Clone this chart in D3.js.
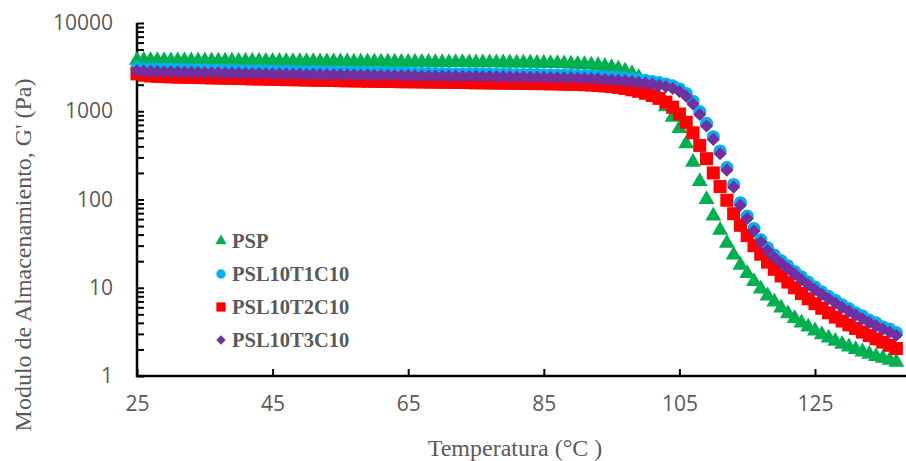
<!DOCTYPE html>
<html>
<head>
<meta charset="utf-8">
<script src="https://cdn.jsdelivr.net/npm/d3@7"></script>
<style>
  body { margin: 0; background: #fff; }
  svg { display: block; }
</style>
</head>
<body>
<div id="chart"></div>
<script>
// Temperature (°C), one reading per degree
const temps = d3.range(25, 138);

// Storage modulus G' (Pa)
const psp = [3800,3780,3770,3760,3760,3750,3750,3740,3740,3730,3730,3720,3720,3710,3710,3700,3700,3700,3690,3690,
  3680,3680,3670,3670,3660,3660,3660,3650,3650,3640,3640,3640,3630,3630,3620,3620,3620,3610,3610,3600,
  3600,3600,3590,3590,3580,3580,3580,3570,3570,3560,3560,3560,3550,3550,3540,3540,3530,3530,3520,3510,
  3500,3490,3480,3460,3440,3420,3390,3350,3300,3230,3140,3020,2870,2670,2420,2120,1780,1430,1130,860,
  640,430,265,160,100,65,45,32,23.5,18,14.5,11.8,9.7,8.1,6.9,5.9,5.1,4.5,4.0,3.6,
  3.25,2.95,2.7,2.48,2.3,2.14,2.0,1.88,1.77,1.67,1.59,1.51,1.44];

const psl10t1c10 = [3080,3050,3030,3010,3000,2990,2980,2960,2950,2940,2930,2920,2910,2900,2900,2890,2880,2870,2870,2860,
  2850,2840,2840,2820,2810,2800,2800,2790,2780,2780,2770,2760,2760,2750,2750,2740,2730,2730,2720,2720,
  2710,2700,2700,2690,2690,2680,2680,2660,2660,2650,2650,2640,2640,2630,2630,2620,2610,2610,2600,2600,
  2590,2580,2570,2570,2560,2550,2530,2510,2490,2460,2430,2400,2360,2320,2280,2230,2170,2110,2030,1940,
  1800,1590,1300,990,730,515,355,230,148,92,65,47,35,28.4,23.5,20.3,17.7,15.3,13.3,11.6,
  10.2,9.0,8.0,7.2,6.4,5.8,5.2,4.8,4.3,4.0,3.6,3.4,3.1];

const psl10t2c10 = [2650,2560,2510,2490,2470,2450,2440,2430,2420,2410,2400,2390,2380,2370,2360,2350,2340,2330,2320,2310,
  2300,2290,2280,2280,2270,2260,2250,2240,2240,2230,2220,2210,2210,2200,2190,2190,2180,2180,2170,2160,
  2160,2150,2150,2140,2140,2130,2130,2120,2120,2110,2100,2100,2090,2090,2080,2080,2070,2070,2060,2060,
  2050,2050,2040,2030,2020,2010,2000,1980,1960,1930,1900,1860,1810,1750,1680,1600,1510,1400,1270,1110,
  930,750,570,410,290,200,140,98,69,51,39,30,24,19.5,16.2,13.6,11.6,10.0,8.6,7.5,
  6.6,5.85,5.2,4.65,4.2,3.8,3.45,3.15,2.88,2.64,2.42,2.23,2.05];

const psl10t3c10 = [2880,2850,2830,2810,2800,2790,2780,2770,2760,2750,2740,2730,2720,2710,2710,2700,2690,2680,2680,2670,
  2660,2650,2650,2640,2630,2620,2620,2610,2600,2600,2590,2580,2580,2570,2570,2560,2550,2550,2540,2540,
  2530,2520,2520,2510,2510,2500,2500,2490,2490,2480,2480,2470,2470,2460,2460,2450,2440,2440,2430,2430,
  2420,2410,2400,2400,2390,2380,2360,2350,2330,2300,2270,2240,2210,2170,2130,2080,2030,1970,1900,1810,
  1680,1480,1210,920,680,480,330,215,138,86,61,44,33,26.5,22,19,16.5,14.3,12.4,10.8,
  9.5,8.4,7.5,6.7,6.0,5.4,4.9,4.45,4.05,3.7,3.4,3.15,2.9];

const seriesNames = ["PSP", "PSL10T1C10", "PSL10T2C10", "PSL10T3C10"];
const seriesValues = [psp, psl10t1c10, psl10t2c10, psl10t3c10];
const seriesColors = ["#00B050", "#00B0F0", "#FF0000", "#7030A0"];
const seriesSymbols = [d3.symbolTriangle, d3.symbolCircle, d3.symbolSquare, d3.symbolDiamond2];
const seriesSizes = [110, 135, 170, 110];

const xTicks = [25, 45, 65, 85, 105, 125];
const yTicks = [1, 10, 100, 1000, 10000];

// Dimensions
const W = 906, H = 461;
const plot = { left: 137, top: 23, bottom: 376 };

const svg = d3.select("#chart")
    .append("svg")
    .attr("width", W)
    .attr("height", H);

// Scales (x axis runs past the right edge, picture is cropped there)
const x = d3.scaleLinear()
    .domain([25, 140])
    .range([plot.left, plot.left + 115 * 6.78]);

const y = d3.scaleLog()
    .domain([1, 10000])
    .range([plot.bottom, plot.top]);

const labelColor = "#595959";

// Y axis with inside minor ticks
const minorY = [];
for (let d = 1; d < 10000; d *= 10) {
    for (let k = 1; k <= 9; k++) minorY.push(d * k);
}
minorY.push(10000);

const yAxis = svg.append("g")
    .attr("transform", `translate(${plot.left},0)`)
    .call(d3.axisRight(y).tickValues(minorY).tickSize(7).tickFormat(""));
yAxis.select(".domain").remove();
yAxis.selectAll(".tick line").attr("stroke", "#000").attr("stroke-width", 2);

svg.append("g")
    .attr("transform", `translate(${plot.left},0)`)
    .call(d3.axisLeft(y).tickValues(yTicks).tickSize(0).tickPadding(24).tickFormat(d3.format("d")))
    .call(g => g.select(".domain").remove())
    .selectAll("text")
    .attr("fill", labelColor)
    .style("font-family", "'Open Sans', sans-serif")
    .style("font-size", "21px");

// X axis with inside ticks
const xAxis = svg.append("g")
    .attr("transform", `translate(0,${plot.bottom})`)
    .call(d3.axisTop(x).tickValues(xTicks).tickSize(7).tickFormat(""));
xAxis.select(".domain").remove();
xAxis.selectAll(".tick line").attr("stroke", "#000").attr("stroke-width", 2);

svg.append("g")
    .attr("transform", `translate(0,${plot.bottom})`)
    .call(d3.axisBottom(x).tickValues(xTicks).tickSize(0).tickPadding(20).tickFormat(d3.format("d")))
    .call(g => g.select(".domain").remove())
    .selectAll("text")
    .attr("fill", labelColor)
    .style("font-family", "'Open Sans', sans-serif")
    .style("font-size", "21px");

// Axis lines
svg.append("line")
    .attr("x1", plot.left).attr("x2", plot.left)
    .attr("y1", plot.top).attr("y2", plot.bottom + 1)
    .attr("stroke", "#000").attr("stroke-width", 2.5);
svg.append("line")
    .attr("x1", plot.left - 1).attr("x2", W)
    .attr("y1", plot.bottom).attr("y2", plot.bottom)
    .attr("stroke", "#000").attr("stroke-width", 2.5);

// Markers, later series drawn on top
seriesValues.forEach((vals, i) => {
    svg.append("g")
        .selectAll("path")
        .data(temps.map((t, j) => ({ t: t, v: vals[j] })))
        .enter()
        .append("path")
        .attr("transform", d => `translate(${x(d.t)},${y(d.v)})`)
        .attr("d", d3.symbol().type(seriesSymbols[i]).size(seriesSizes[i]))
        .attr("fill", seriesColors[i]);
});

// Legend
const legend = svg.append("g")
    .attr("transform", "translate(221,241)");
seriesNames.forEach((name, i) => {
    const row = legend.append("g").attr("transform", `translate(0,${i * 33})`);
    row.append("path")
        .attr("d", d3.symbol().type(seriesSymbols[i]).size(seriesSizes[i] * 0.5))
        .attr("fill", seriesColors[i]);
    row.append("text")
        .attr("x", 11)
        .attr("y", 7)
        .attr("fill", labelColor)
        .style("font-family", "'Liberation Serif', serif")
        .style("font-weight", "bold")
        .style("font-size", "20.5px")
        .text(name);
});

// Axis titles
svg.append("text")
    .attr("x", 515)
    .attr("y", 456)
    .attr("text-anchor", "middle")
    .attr("fill", labelColor)
    .style("font-family", "'Liberation Serif', serif")
    .style("font-size", "24px")
    .text("Temperatura (°C )");

svg.append("text")
    .attr("transform", "translate(31,255) rotate(-90)")
    .attr("text-anchor", "middle")
    .attr("fill", labelColor)
    .style("font-family", "'Liberation Serif', serif")
    .style("font-size", "24px")
    .text("Modulo de Almacenamiento, G' (Pa)");
</script>
</body>
</html>
